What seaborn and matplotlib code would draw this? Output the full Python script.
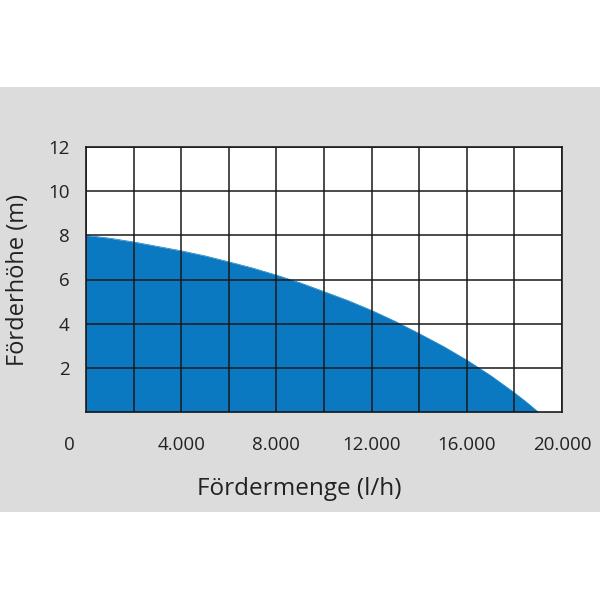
import matplotlib
matplotlib.use("Agg")
import matplotlib.pyplot as plt
import matplotlib.transforms as mtransforms
from matplotlib.patches import Rectangle
import seaborn as sns
import pandas as pd

# pump curve
flow = [0, 1000, 2000, 3000, 4000, 5000, 6000, 7000, 8000, 9000, 10000,
        11000, 12000, 13000, 14000, 15000, 16000, 17000, 18000, 18500, 19000]
head = [8.0, 7.87, 7.7, 7.5, 7.3, 7.07, 6.8, 6.52, 6.2, 5.85, 5.45,
        5.05, 4.6, 4.1, 3.55, 2.98, 2.35, 1.65, 0.87, 0.45, 0.0]
df = pd.DataFrame({"flow": flow, "head": head})

x_ticks = [0, 4000, 8000, 12000, 16000, 20000]
x_labels = ["0", "4.000", "8.000", "12.000", "16.000", "20.000"]
x_minor = [2000, 6000, 10000, 14000, 18000]
y_ticks = [2, 4, 6, 8, 10, 12]

blue = "#0b79c1"
gray = "#dcdcdc"

sns.set_style("white")
plt.rcParams["font.family"] = ["Open Sans", "DejaVu Sans"]

fig = plt.figure(figsize=(6, 6), dpi=100)
fig.patch.set_facecolor("white")
band = Rectangle((0, 88 / 600), 1, 425 / 600, transform=fig.transFigure,
                 facecolor=gray, edgecolor="none")
band.set_zorder(-10)
fig.add_artist(band)

ax = fig.add_axes([86 / 600, 188 / 600, 476 / 600, 265 / 600])
ax.set_zorder(1)
ax.set_facecolor("white")

sns.lineplot(data=df, x="flow", y="head", color=blue, linewidth=0.5, ax=ax, zorder=1)
ax.fill_between(df["flow"], df["head"], 0, color=blue, linewidth=0, zorder=1)

ax.set_xlim(0, 20000)
ax.set_ylim(0, 12)
ax.set_xticks(x_ticks)
ax.set_xticklabels(x_labels)
ax.set_xticks(x_minor, minor=True)
ax.set_yticks(y_ticks)

ax.set_axisbelow(False)
ax.grid(True, which="both", color="#1a1a1a", linewidth=1.1, zorder=3)
for s in ax.spines.values():
    s.set_color("#1a1a1a")
    s.set_linewidth(1.2)
    s.set_zorder(4)

ax.tick_params(axis="both", which="both", length=0, labelsize=13.5, colors="#222222")
ax.tick_params(axis="x", pad=17)
ax.tick_params(axis="y", pad=12)

# the "0" sits left of the corner in the original
offset = mtransforms.ScaledTranslation(-12 / 72, 0, fig.dpi_scale_trans)
lbl0 = ax.get_xticklabels()[0]
lbl0.set_transform(lbl0.get_transform() + offset)

ax.set_xlabel("Fördermenge (l/h)", fontsize=17.5, color="#222222", labelpad=14)
ax.set_ylabel("Förderhöhe (m)", fontsize=17, color="#222222", labelpad=13)
ax.xaxis.set_label_coords(0.447, -0.245)

fig.savefig("out.png", dpi=100)
